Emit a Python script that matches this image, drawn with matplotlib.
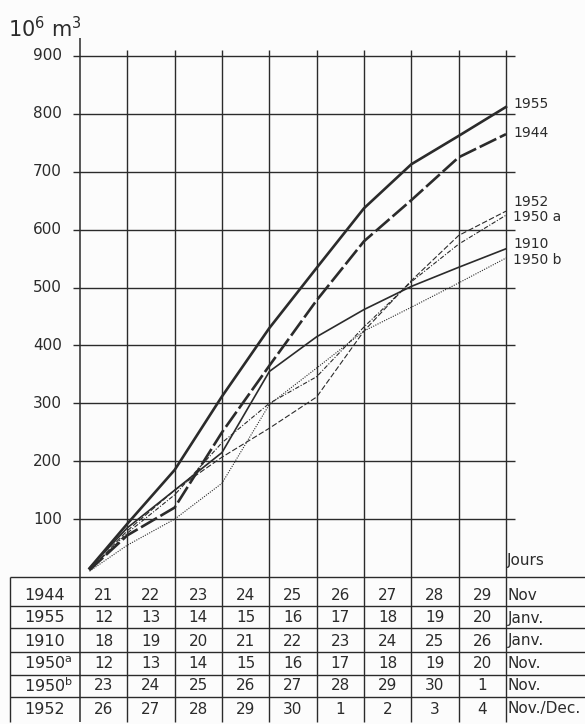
import numpy as np
import matplotlib
matplotlib.use("Agg")
import matplotlib.pyplot as plt

# --- data ---
day_pos = [0.2, 1, 2, 3, 4, 5, 6, 7, 8, 9]
v1955 = [15, 92, 185, 312, 430, 534, 637, 713, 762, 812]
v1944 = [12, 72, 120, 250, 365, 478, 580, 651, 725, 765]
v1910 = [15, 85, 150, 215, 355, 415, 462, 502, 535, 567]
v1952 = [12, 80, 150, 207, 257, 311, 425, 512, 590, 632]
v1950a = [12, 76, 142, 232, 300, 346, 432, 510, 575, 625]
v1950b = [10, 55, 100, 162, 298, 361, 425, 466, 508, 551]

yticks = [100, 200, 300, 400, 500, 600, 700, 800, 900]

row_labels = ['1944', '1955', '1910', r'1950$^{\mathregular{a}}$', r'1950$^{\mathregular{b}}$', '1952']
row_days = [
    [21, 22, 23, 24, 25, 26, 27, 28, 29],
    [12, 13, 14, 15, 16, 17, 18, 19, 20],
    [18, 19, 20, 21, 22, 23, 24, 25, 26],
    [12, 13, 14, 15, 16, 17, 18, 19, 20],
    [23, 24, 25, 26, 27, 28, 29, 30, 1],
    [26, 27, 28, 29, 30, 1, 2, 3, 4],
]
row_months = ['Nov', 'Janv.', 'Janv.', 'Nov.', 'Nov.', 'Nov./Dec.']

# --- layout in pixels ---
W, H = 585, 724
X0, X1 = 80, 506      # x=0 .. x=9
Y0, Y1 = 577, 56      # y=0 .. y=900
sx = (X1 - X0) / 9.0
sy = (Y0 - Y1) / 900.0


def dx(px):
    return (px - X0) / sx


def dy(py):
    return (Y0 - py) / sy


ink = '#2b2b2b'
plt.rcParams['font.family'] = ['DejaVu Sans']

fig = plt.figure(figsize=(W / 100, H / 100), dpi=100, facecolor='#fcfcfc')
ax = fig.add_axes([X0 / W, (H - Y0) / H, (X1 - X0) / W, (Y0 - Y1) / H])
ax.set_xlim(0, 9)
ax.set_ylim(0, 900)
ax.axis('off')

# grid
ax.hlines(yticks, dx(73), dx(515), color=ink, lw=1.0, clip_on=False)
ax.vlines(range(1, 10), dy(722), dy(50), color=ink, lw=1.0, clip_on=False)
ax.vlines(0, dy(722), dy(38), color=ink, lw=1.1, clip_on=False)

for t in yticks:
    ax.text(dx(62), t, str(t), ha='right', va='center', fontsize=11, color=ink)

ax.text(dx(8), dy(41), r'$\mathregular{10^6\ m^3}$', ha='left', va='bottom',
        fontsize=15, color=ink, clip_on=False)

# curves
series = [
    ('1955', v1955, dict(lw=1.9, ls='-'), 3),
    ('1944', v1944, dict(lw=1.9, dashes=(7, 1.5)), 1),
    ('1952', v1952, dict(lw=0.8, dashes=(5, 2)), 9),
    ('1950a', v1950a, dict(lw=0.8, dashes=(4, 1.5, 1, 1.5)), -2),
    ('1910', v1910, dict(lw=1.2, ls='-'), 5),
    ('1950b', v1950b, dict(lw=0.8, dashes=(1, 1.2)), -2),
]
for name, vals, style, off in series:
    ax.plot(day_pos, vals, color=ink, clip_on=False, **style)
    label = name if len(name) == 4 else name[:4] + ' ' + name[4:]
    ax.annotate(label, (9, vals[-1]), xytext=(7 * 0.72, off * 0.72),
                textcoords='offset points', ha='left', va='center',
                fontsize=10, color=ink, annotation_clip=False)

ax.text(dx(507), dy(560), 'Jours', ha='left', va='center', fontsize=11, color=ink)

# table
row_edges = [577, 606, 628, 652, 675, 697, 722]
row_mid = [596, 618, 641, 664, 686, 709]
ax.hlines([dy(p) for p in row_edges[:-1]], dx(10), dx(585), color=ink, lw=1.0, clip_on=False)
ax.vlines(dx(10), dy(722), dy(577), color=ink, lw=1.0, clip_on=False)

for r in range(len(row_labels)):
    yy = dy(row_mid[r])
    ax.text(dx(24), yy, row_labels[r], ha='left', va='center', fontsize=11.5,
            color=ink, clip_on=False)
    for c, d in enumerate(row_days[r]):
        ax.text(c + 0.5, yy, str(d), ha='center', va='center', fontsize=11,
                color=ink, clip_on=False)
    ax.text(dx(508), yy, row_months[r], ha='left', va='center', fontsize=11,
            color=ink, clip_on=False)

fig.savefig('out.png', dpi=100, facecolor=fig.get_facecolor())
